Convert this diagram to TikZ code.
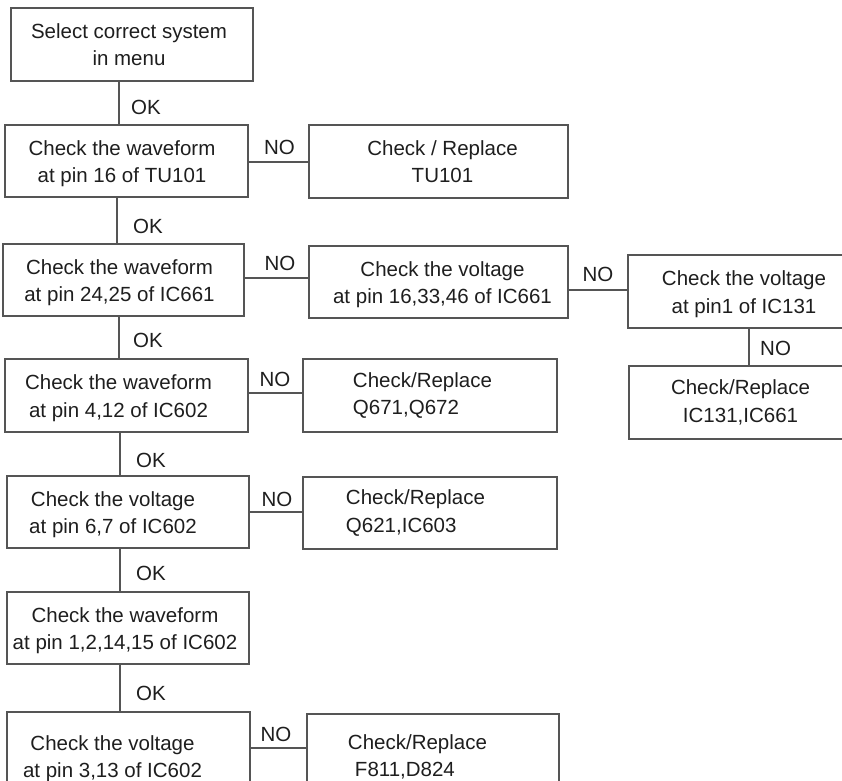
\documentclass[tikz,border=0pt]{standalone}
\usepackage{fontspec}
\setmainfont{Liberation Sans}
\newcommand\flowfont{\fontsize{20.5}{27.5}\selectfont}
\definecolor{linecol}{RGB}{85,85,85}
\definecolor{textcol}{RGB}{30,30,30}
\begin{document}
\begin{tikzpicture}[x=1pt,y=-1pt,
  box/.style={draw=linecol, line width=1.2pt, inner sep=0pt},
  txt/.style={font=\flowfont, text=textcol, align=center, inner sep=0pt},
  ltxt/.style={font=\flowfont, text=textcol, align=left, inner sep=0pt},
  lbl/.style={font=\flowfont, text=textcol, inner sep=0pt},
  wire/.style={draw=linecol, line width=1.2pt}]
\useasboundingbox (0,0) rectangle (842,780);
\clip (0,0) rectangle (842,780);

% main column
\node[box, minimum width=242pt, minimum height=73pt,
  label={[txt,xshift=-3pt]center:{Select correct system\\in menu}}] (b1) at (132,44.5) {};
\node[box, minimum width=243pt, minimum height=72pt,
  label={[txt,xshift=-4.5pt,yshift=-2.5pt]center:{Check the waveform\\at pin 16 of TU101}}] (b2) at (126.5,161) {};
\node[box, minimum width=241pt, minimum height=72pt,
  label={[txt,xshift=-4pt,yshift=-2.5pt]center:{Check the waveform\\at pin 24,25 of IC661}}] (b3) at (123.5,280) {};
\node[box, minimum width=243pt, minimum height=73pt,
  label={[txt,xshift=-8pt,yshift=-2.5pt]center:{Check the waveform\\at pin 4,12 of IC602}}] (b4) at (126.5,395.5) {};
\node[box, minimum width=242pt, minimum height=72pt,
  label={[txt,xshift=-15pt,yshift=-2.5pt]center:{Check the voltage\\at pin 6,7 of IC602}}] (b5) at (128,512) {};
\node[box, minimum width=242pt, minimum height=72pt,
  label={[txt,xshift=-3pt,yshift=-2.5pt]center:{Check the waveform\\at pin 1,2,14,15 of IC602}}] (b6) at (128,628) {};
\node[box, minimum width=243pt, minimum height=88pt,
  label={[txt,xshift=-16pt,yshift=-2.5pt]center:{Check the voltage\\at pin 3,13 of IC602}}] (b7) at (128.5,756) {};

% repair column
\node[box, minimum width=259pt, minimum height=73pt,
  label={[txt,xshift=4pt]center:{Check / Replace\\TU101}}] (r2) at (438.5,161.5) {};
\node[box, minimum width=259pt, minimum height=72pt,
  label={[txt,xshift=4pt,yshift=-2.5pt]center:{Check the voltage\\at pin 16,33,46 of IC661}}] (r3) at (438.5,282) {};
\node[box, minimum width=254pt, minimum height=73pt,
  label={[ltxt,xshift=-7.5pt]center:{Check/Replace\\Q671,Q672}}] (r4) at (430,395.5) {};
\node[box, minimum width=254pt, minimum height=72pt,
  label={[ltxt,xshift=-14.5pt]center:{Check/Replace\\Q621,IC603}}] (r5) at (430,513) {};
\node[box, minimum width=252pt, minimum height=86pt,
  label={[ltxt,xshift=-15.5pt]center:{Check/Replace\\\hspace*{7pt}F811,D824}}] (r7) at (433,757) {};

% IC131 branch
\node[box, minimum width=242pt, minimum height=73pt,
  label={[txt,xshift=-5pt,yshift=-2.5pt]center:{Check the voltage\\at pin1 of IC131}}] (q3) at (749,291.5) {};
\node[box, minimum width=241pt, minimum height=73pt,
  label={[txt,xshift=-9pt]center:{Check/Replace\\IC131,IC661}}] (q4) at (749.5,402.5) {};

% wire positions
\coordinate (v1) at (119,0);
\coordinate (v2) at (117,0);
\coordinate (v3) at (119,0);
\coordinate (v4) at (120,0);
\coordinate (v5) at (120,0);
\coordinate (v6) at (120,0);
\coordinate (vq) at (749,0);
\coordinate (h2) at (0,162);
\coordinate (h3) at (0,278);
\coordinate (hq) at (0,290);
\coordinate (h4) at (0,393);
\coordinate (h5) at (0,512);
\coordinate (h7) at (0,748);

% OK path
\draw[wire] (b1.south -| v1) -- (b2.north -| v1);
\draw[wire] (b2.south -| v2) -- (b3.north -| v2);
\draw[wire] (b3.south -| v3) -- (b4.north -| v3);
\draw[wire] (b4.south -| v4) -- (b5.north -| v4);
\draw[wire] (b5.south -| v5) -- (b6.north -| v5);
\draw[wire] (b6.south -| v6) -- (b7.north -| v6);

% NO branches
\draw[wire] (b2.east |- h2) -- (r2.west |- h2);
\draw[wire] (b3.east |- h3) -- (r3.west |- h3);
\draw[wire] (r3.east |- hq) -- (q3.west |- hq);
\draw[wire] (q3.south -| vq) -- (q4.north -| vq);
\draw[wire] (b4.east |- h4) -- (r4.west |- h4);
\draw[wire] (b5.east |- h5) -- (r5.west |- h5);
\draw[wire] (b7.east |- h7) -- (r7.west |- h7);

% branch labels
\node[lbl, anchor=west] (ok1) at (131,107) {OK};
\node[lbl, anchor=west] (ok2) at (133,226) {OK};
\node[lbl, anchor=west] (ok3) at (133,340) {OK};
\node[lbl, anchor=west] (ok4) at (136,460) {OK};
\node[lbl, anchor=west] (ok5) at (136,573) {OK};
\node[lbl, anchor=west] (ok6) at (136,693) {OK};
\node[lbl] (no2) at (279.5,147) {NO};
\node[lbl] (no3) at (280,263) {NO};
\node[lbl] (noq) at (598,274) {NO};
\node[lbl, anchor=west] (noq4) at (760,348) {NO};
\node[lbl] (no4) at (275,379.5) {NO};
\node[lbl] (no5) at (277,499) {NO};
\node[lbl] (no7) at (276,734) {NO};
\end{tikzpicture}
\end{document}
